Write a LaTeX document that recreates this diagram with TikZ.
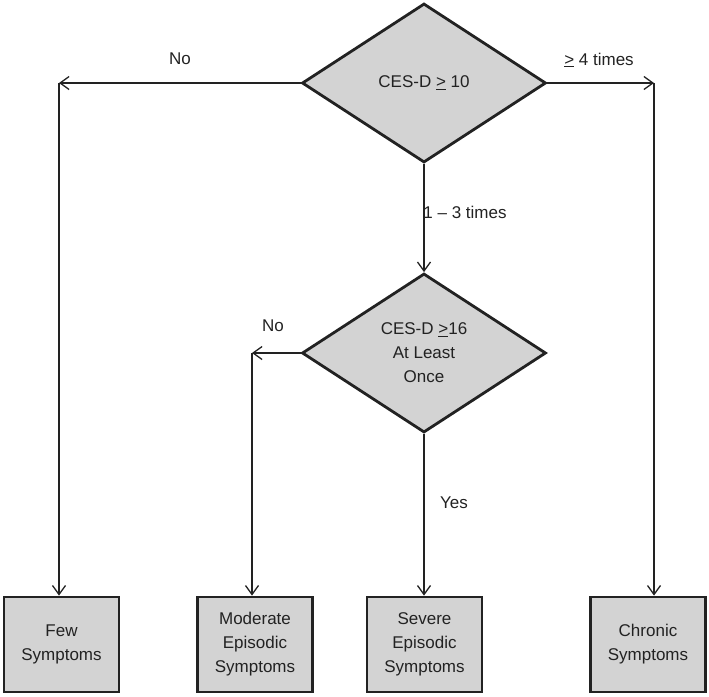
\documentclass[tikz,border=0pt]{standalone}
\usepackage{fontspec}
\setmainfont{Liberation Sans}
\usetikzlibrary{shapes.geometric,arrows.meta}
\definecolor{boxgray}{HTML}{D3D3D3}
\definecolor{ink}{HTML}{222222}
\tikzset{
  decision/.style={diamond, draw=ink, fill=boxgray, line width=2.8pt, inner sep=0pt,
    minimum width=244pt, minimum height=159pt, align=center, font=\fontsize{17}{24}\selectfont, text=ink},
  outcome/.style={rectangle, draw=ink, fill=boxgray, line width=2.8pt, inner sep=0pt,
    minimum width=115pt, minimum height=95pt, align=center, font=\fontsize{17}{24}\selectfont, text=ink},
  conn/.style={draw=ink, line width=1.3pt, -{Straight Barb[length=9pt,width=13pt,line width=1.3pt]}},
  lbl/.style={font=\fontsize{17}{20}\selectfont, text=ink, inner sep=0pt}
}
\begin{document}
\begin{tikzpicture}[x=1pt,y=-1pt]
\useasboundingbox (0,0) rectangle (709,696);
\node[decision] (d1) at (424,83) {CES-D \underline{>} 10};
\node[decision] (d2) at (424,353) {CES-D \underline{>}16\\At Least\\Once};
\node[outcome] (few) at (61.5,644.5) {Few\\Symptoms};
\node[outcome] (mod) at (255,644.5) {Moderate\\Episodic\\Symptoms};
\node[outcome] (sev) at (424.5,644.5) {Severe\\Episodic\\Symptoms};
\node[outcome] (chr) at (648,644.5) {Chronic\\Symptoms};
\coordinate (c1) at (59,83);
\coordinate (c2) at (654,83);
\coordinate (c3) at (252,353);
\draw[conn] (d1.west) -- (c1);
\draw[conn] (c1) -- (c1 |- few.north);
\draw[conn] (d1.east) -- (c2);
\draw[conn] (c2) -- (c2 |- chr.north);
\draw[conn] (d1.south) -- (d2.north);
\draw[conn] (d2.west) -- (c3);
\draw[conn] (c3) -- (c3 |- mod.north);
\draw[conn] (d2.south) -- (d2.south |- sev.north);
\node[lbl] (l1) at (180,59) {No};
\node[lbl] (l2) at (599,60) {\underline{>} 4 times};
\node[lbl] (l3) at (465,212) {1 -- 3 times};
\node[lbl] (l4) at (273,326) {No};
\node[lbl] (l5) at (454,503) {Yes};
\end{tikzpicture}
\end{document}
